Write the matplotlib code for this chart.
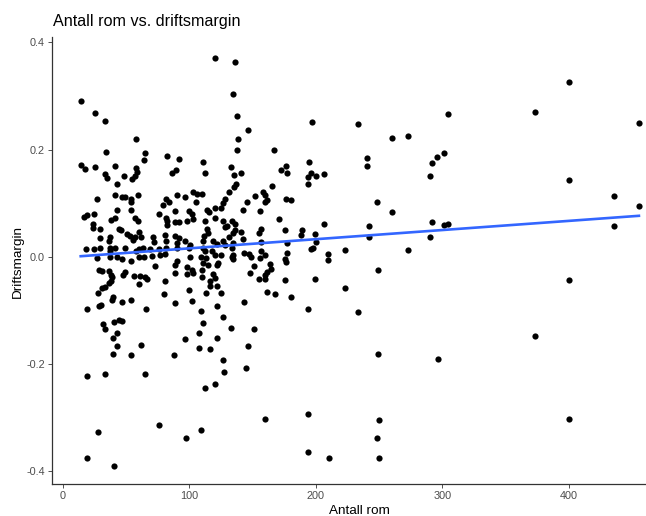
import numpy as np
import matplotlib.pyplot as plt

plt.rcParams["font.family"] = ["Liberation Sans", "DejaVu Sans"]

title = "Antall rom vs. driftsmargin"
x_label = "Antall rom"
y_label = "Driftsmargin"
x_ticks = [0, 100, 200, 300, 400]
y_ticks = [-0.4, -0.2, 0.0, 0.2, 0.4]
y_tick_labels = ["-0.4", "-0.2", "0.0", "0.2", "0.4"]

# number of rooms per hotel
rooms = [
    120, 136.2, 134.1, 14, 25, 33, 137.8, 146, 197, 58, 138,
    34, 65, 64, 82, 92, 14, 17, 25, 41, 57.7, 58.7, 57.2, 54.5, 33, 34.5, 48, 43,
    89, 86, 41, 46.6, 49, 53.5, 59.3, 27, 53.5, 81.4, 84, 78.8, 90, 96.7, 54, 43,
    88.8, 16.6, 18.7, 24.5, 37.7, 41.3, 56.7, 59.3, 76, 81.4, 82.4, 82, 88.8, 92,
    97.8, 23.5, 24, 29, 44, 45.6, 50.3, 53, 56.7, 60.3, 61.4, 55, 37, 36.6, 29, 71,
    72, 81, 81.4, 88.8, 91.5, 90, 96.7, 18, 24.5, 29, 37, 41, 37, 49, 57.7, 60.3,
    63, 68.8, 75.6, 81.4, 90.3, 99.8,
    26.6, 37.2, 42.9, 46.6, 54, 59.8, 64, 70.4, 76.7, 80.9, 89.9, 88.8, 28.7, 30.8,
    36.1, 37.7, 38.7, 47.2, 48.8, 56.1, 60.9, 64.6, 66.6, 59.8, 72.5, 80.9, 88.3,
    98.3, 33.4, 30.8, 36.1, 37.7, 27.7, 39.3, 38.7, 46.6, 53.5, 79.8, 88.3, 99.4,
    18.7, 28.2, 30.3, 65.6, 31.4, 33.4, 40.3, 44, 46.6, 42.9, 39.8, 42.9, 61.9,
    96.7, 39.8, 54, 87.7, 18.7, 33.4, 65.1,
    137.3, 166.8, 110.9, 112, 133, 135.2, 140.5, 172, 176.3, 177.3, 194.2, 193.7,
    193.7, 165.2, 136.8, 135.2, 131, 103, 106.2, 109.9, 105.1, 127.8, 126.2, 145.2,
    151.5, 157.9, 160, 161.5, 160, 176.3, 180, 119.9, 125.1, 114.1, 115.2, 99.3,
    102, 102.5, 142, 155.7, 112, 120.4, 126.7, 133.6, 135.7, 129.9, 128.3, 135.7,
    141, 134.1, 113.6, 114.6, 111.5, 110.4, 118.8, 122, 126.2, 131, 127.8, 134.6,
    133.6, 142.5, 156.8, 155.2, 171, 175.3, 156.3, 176.8, 189, 187.9, 100.4, 110.9,
    112.5, 109.3, 117.8, 120.4, 124.7, 134.6, 133.6, 146.8, 148.4, 156.3, 155.7,
    176.8, 175.8,
    100.4, 113, 143, 160, 134.6, 176.3, 110.9, 114.6, 122.5, 121.5, 98.3, 102,
    102.5, 109.9, 109.9, 118.8, 119.9, 116.2, 122, 116.2, 151, 147.8, 163.6, 164.7,
    161.5, 160, 155.2, 160, 175.3, 113, 125.1, 161, 167.3, 180, 102, 122, 143,
    108.9, 193.7, 126.7, 110.9, 133, 151, 107.3, 122, 107.3, 116.2, 146.2, 126.7,
    112, 120, 159.5, 194, 250, 400, 28, 76, 97, 109, 248, 19, 40, 194, 210, 250,
    127, 145,
    304.1, 233, 260.1, 273, 240.1, 240.1, 196, 200, 206, 301.2, 295.9, 292, 290.1,
    248, 260.1, 206, 199, 200, 197.4, 196, 242.1, 242.1, 292, 290.1, 301.2, 304.1,
    209.2, 223.2, 273,
    400.3, 373.4, 455.3, 400.3, 435.3, 455.3, 435.3,
    209.2, 249, 199, 223.2, 233.2, 249, 296.2,
    400.3, 373.4,
]

# operating margin for the same hotels
margin = [
    0.371, 0.364, 0.303, 0.290, 0.269, 0.254, 0.262, 0.236, 0.251, 0.220, 0.220,
    0.196, 0.194, 0.181, 0.188, 0.182, 0.171, 0.163, 0.168, 0.170, 0.166, 0.158,
    0.151, 0.145, 0.155, 0.146, 0.150, 0.135, 0.162, 0.156, 0.116, 0.111, 0.112,
    0.108, 0.116, 0.108, 0.102, 0.108, 0.102, 0.097, 0.116, 0.111, 0.087, 0.087,
    0.086, 0.075, 0.077, 0.079, 0.069, 0.072, 0.072, 0.067, 0.079, 0.073, 0.066,
    0.060, 0.065, 0.064, 0.067, 0.062, 0.054, 0.051, 0.052, 0.049, 0.042, 0.039,
    0.037, 0.046, 0.036, 0.032, 0.037, 0.030, 0.035, 0.037, 0.027, 0.040, 0.030,
    0.039, 0.035, 0.026, 0.030, 0.014, 0.014, 0.016, 0.017, 0.016, 0.010, 0.016,
    0.010, 0.014, 0.016, 0.015, 0.014, 0.017, 0.016, 0.017,
    -0.002, 0.000, -0.001, -0.004, -0.007, -0.001, 0.000, 0.001, 0.004, 0.006,
    -0.007, -0.015, -0.025, -0.027, -0.027, -0.034, -0.037, -0.034, -0.029, -0.036,
    -0.035, -0.037, -0.042, -0.050, -0.017, -0.046, -0.031, -0.032, -0.056, -0.059,
    -0.049, -0.046, -0.067, -0.076, -0.081, -0.085, -0.081, -0.069, -0.087, -0.062,
    -0.097, -0.092, -0.090, -0.097, -0.126, -0.135, -0.121, -0.118, -0.120, -0.142,
    -0.152, -0.167, -0.164, -0.153, -0.181, -0.184, -0.184, -0.223, -0.218, -0.218,
    0.199, 0.200, 0.176, 0.156, 0.167, 0.153, 0.156, 0.162, 0.170, 0.156, 0.176,
    0.148, 0.136, 0.132, 0.136, 0.131, 0.121, 0.120, 0.117, 0.118, 0.102, 0.107,
    0.100, 0.103, 0.113, 0.120, 0.115, 0.105, 0.102, 0.107, 0.106, 0.091, 0.091,
    0.087, 0.084, 0.086, 0.079, 0.070, 0.088, 0.085, 0.067, 0.072, 0.066, 0.067,
    0.062, 0.057, 0.055, 0.050, 0.047, 0.045, 0.051, 0.045, 0.039, 0.030, 0.029,
    0.024, 0.029, 0.037, 0.021, 0.026, 0.017, 0.034, 0.051, 0.045, 0.071, 0.050,
    0.027, 0.026, 0.049, 0.041, 0.021, 0.017, 0.010, 0.000, 0.010, 0.004, 0.004,
    0.004, -0.001, 0.005, 0.000, 0.010, -0.002, 0.007, -0.005,
    -0.001, -0.002, 0.007, 0.004, -0.005, -0.010, -0.011, -0.015, -0.011, -0.016,
    -0.019, -0.025, -0.031, -0.025, -0.037, -0.032, -0.040, -0.045, -0.055, -0.054,
    -0.017, -0.031, -0.014, -0.022, -0.029, -0.034, -0.042, -0.042, -0.044, -0.067,
    -0.067, -0.065, -0.070, -0.075, -0.082, -0.092, -0.084, -0.101, -0.098, -0.112,
    -0.123, -0.133, -0.135, -0.142, -0.151, -0.170, -0.173, -0.167, -0.193,
    -0.244, -0.237, -0.302, -0.294, -0.304, -0.302, -0.327, -0.313, -0.338, -0.324,
    -0.338, -0.375, -0.390, -0.364, -0.376, -0.376, -0.215, -0.207,
    0.267, 0.247, 0.221, 0.225, 0.184, 0.170, 0.156, 0.150, 0.155, 0.194, 0.187,
    0.174, 0.150, 0.103, 0.083, 0.061, 0.042, 0.027, 0.017, 0.014, 0.057, 0.036,
    0.065, 0.037, 0.060, 0.062, 0.006, 0.013, 0.013,
    0.326, 0.270, 0.249, 0.143, 0.113, 0.094, 0.058,
    -0.006, -0.025, -0.042, -0.059, -0.103, -0.182, -0.190,
    -0.044, -0.147,
]

x = np.array(rooms)
y = np.array(margin)

fig = plt.figure(figsize=(6.46, 5.16), dpi=100)
W, H = 646, 516
ax = fig.add_axes([52 / W, (H - 484) / H, (W - 52) / W, (484 - 37) / H])

ax.scatter(x, y, s=20, color="black", linewidths=0, zorder=2)

# linear fit, like geom_smooth(method = "lm", se = FALSE)
slope, intercept = np.polyfit(x, y, 1)
xs = np.linspace(x.min(), x.max(), 100)
ax.plot(xs, intercept + slope * xs, color="#3366FF", lw=1.9, zorder=3)

ax.set_xlim(-8.7, 460.9)
ax.set_ylim(-0.424, 0.410)
ax.set_xticks(x_ticks)
ax.set_yticks(y_ticks)
ax.set_yticklabels(y_tick_labels)
ax.tick_params(axis="both", length=3, width=0.6, color="#333333",
               labelsize=7.8, labelcolor="#4D4D4D", pad=2)

for side in ["top", "right"]:
    ax.spines[side].set_visible(False)
for side in ["left", "bottom"]:
    ax.spines[side].set_color("#333333")
    ax.spines[side].set_linewidth(0.9)

# titles placed in pixel terms; the panel runs past the right edge
fig.text(359 / W, 1 - 514 / H, x_label, fontsize=9.7, color="black",
         ha="center", va="baseline")
fig.text(17.5 / W, 1 - 261 / H, y_label, fontsize=9.7, color="black",
         ha="center", va="center", rotation=90)
fig.text(53 / W, 1 - 26 / H, title, fontsize=11.6, color="black",
         ha="left", va="baseline")

fig.savefig("out.png", dpi=100)
